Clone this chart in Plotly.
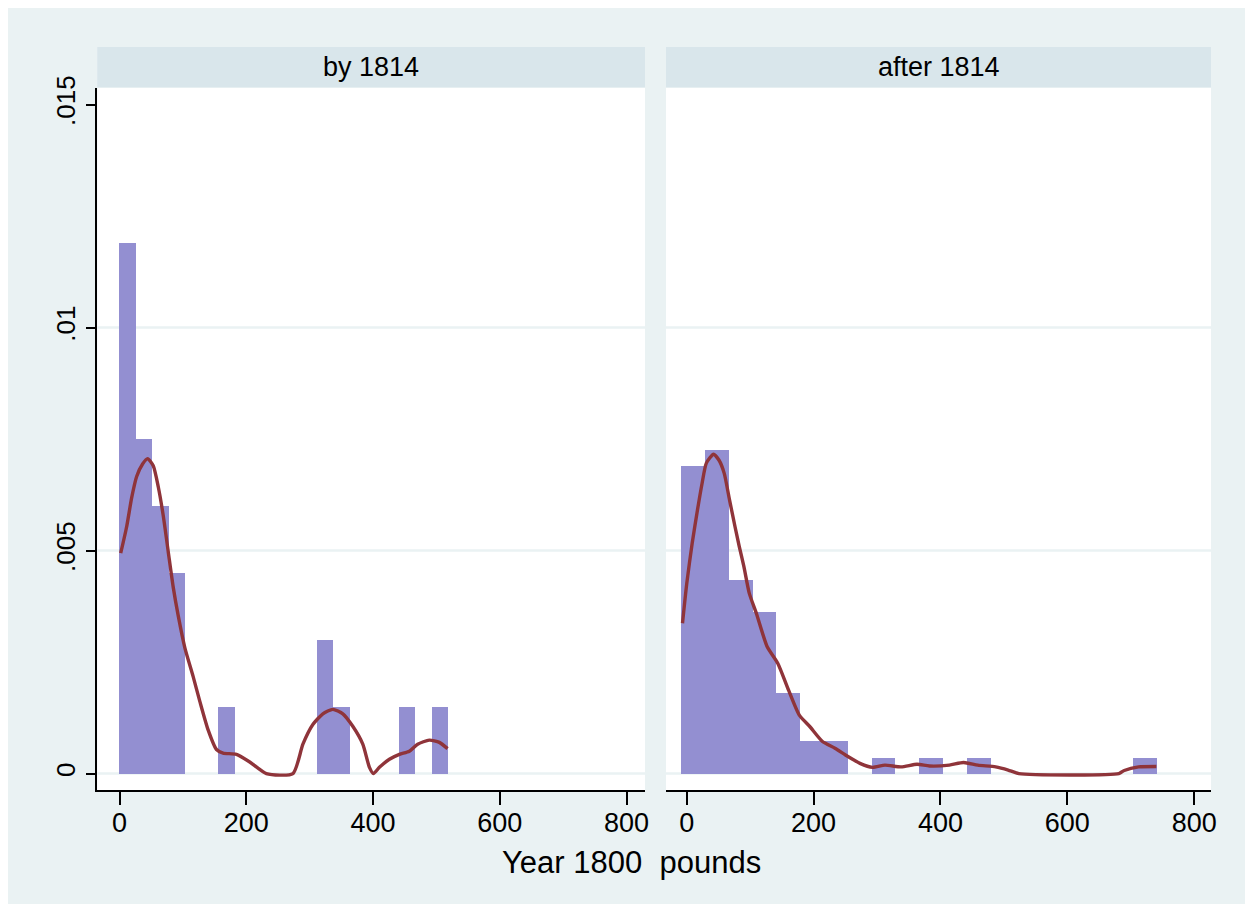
import plotly.graph_objects as go

# ---------------- data ----------------
panels = ["by 1814", "after 1814"]

# histogram bins: start and width (Year 1800 pounds), densities per bin
left_bin_start = 0.2
left_bin_width = 25.95
left_density = [0.0119, 0.0075, 0.0060, 0.0045, 0, 0, 0.0015, 0, 0, 0,
                0, 0, 0.0030, 0.0015, 0, 0, 0, 0.0015, 0, 0.0015]

right_bin_start = -8.5
right_bin_width = 37.5
right_density = [0.00689, 0.00725, 0.00435, 0.00362, 0.00181, 0.00073, 0.00073, 0,
                 0.00036, 0, 0.00036, 0, 0.00036, 0, 0, 0, 0, 0, 0, 0.00036]

# kernel density curves
left_kx = [1.7, 11.2, 19, 26.9, 36.3, 44.2, 53.1, 61, 68.9, 76.7, 84.6, 92.5, 103,
           116, 126.6, 139.7, 152.9, 163.3, 184.4, 205.4, 231.6, 273.5, 289.3, 305,
           320.8, 336.5, 352.3, 368, 383.8, 394.3, 400.6, 410, 425.8, 441.6, 457.3,
           470.4, 488.8, 504.6, 517.6]
left_ky = [0.00494, 0.00554, 0.00618, 0.00666, 0.00694, 0.00706, 0.0069, 0.00643,
           0.00578, 0.00498, 0.00418, 0.00354, 0.00282, 0.00218, 0.00162, 0.00098,
           0.00054, 0.00046, 0.00043, 0.00026, 0.0, 0.0, 0.00066, 0.0011, 0.00134,
           0.00144, 0.00134, 0.00106, 0.00066, 0.00014, 0.0, 0.00014, 0.00032,
           0.00043, 0.0005, 0.00066, 0.00075, 0.0007, 0.00056]

right_kx = [-6.6, 0.2, 8.6, 17, 24.3, 31, 42.4, 50.8, 59.2, 67.6, 76.1, 82.9, 90.2,
            98.7, 109.9, 126.7, 143.7, 160.6, 177.5, 194.3, 214, 233.7, 253.4, 273.1,
            292.8, 312.5, 337.9, 363.1, 382.8, 413.9, 436.4, 458.9, 487, 506.7, 523.6,
            681.2, 689.7, 712.2, 740.3]
right_ky = [0.00337, 0.00427, 0.00516, 0.00591, 0.00651, 0.00696, 0.00716, 0.00703,
            0.00673, 0.00613, 0.00554, 0.00509, 0.00464, 0.00404, 0.00359, 0.00285,
            0.00247, 0.00187, 0.00131, 0.00105, 0.00072, 0.00057, 0.00039, 0.00023,
            0.00014, 0.00019, 0.00015, 0.00021, 0.00017, 0.00019, 0.00025, 0.00019,
            0.00015, 0.00008, 0.0, 0.0, 0.00007, 0.00015, 0.00016]

x_ticks = [0, 200, 400, 600, 800]
y_ticks = [0, 0.005, 0.01, 0.015]
y_tick_labels = ["0", ".005", ".01", ".015"]
grid_vals = [0, 0.005, 0.01]
x_title = "Year 1800\u00a0 pounds"

# ---------------- styling ----------------
BAR = "#938FD1"
LINE = "#8F343A"
OUTER = "#EAF2F3"
STRIP = "#D9E6EB"
GRID = "#EAF2F3"
FONT = "Liberation Sans, Arial, sans-serif"

OFF = 8  # page body margin; figure starts at (8, 8) in the page
W, H = 1245 - OFF, 904 - OFF
PLOT_L, PLOT_R, PLOT_T, PLOT_B = 97, 1211, 47, 790  # page pixel coords
ML, MT = PLOT_L - OFF, PLOT_T - OFF
MR, MB = W - (PLOT_R - OFF), H - (PLOT_B - OFF)
PW = W - ML - MR
PH = H - MT - MB


def px_x(p):
    return (p - PLOT_L) / PW


def px_y(p):
    return (PLOT_B - p) / PH


fig = go.Figure()

hist = [(left_bin_start, left_bin_width, left_density, "x", "y"),
        (right_bin_start, right_bin_width, right_density, "x2", "y2")]
for start, width, dens, xa, ya in hist:
    centers = [start + width * (i + 0.5) for i in range(len(dens))]
    fig.add_trace(go.Bar(x=centers, y=dens, width=width, xaxis=xa, yaxis=ya,
                         marker=dict(color=BAR, line=dict(width=0)),
                         showlegend=False, hoverinfo="skip"))

for kx, ky, xa, ya in [(left_kx, left_ky, "x", "y"), (right_kx, right_ky, "x2", "y2")]:
    fig.add_trace(go.Scatter(x=kx, y=ky, mode="lines", xaxis=xa, yaxis=ya,
                             line=dict(color=LINE, width=3.4, shape="spline", smoothing=0.6),
                             showlegend=False, hoverinfo="skip"))

ydom = [0, px_y(88)]
axis_common = dict(showgrid=False, zeroline=False, showline=True, linecolor="#000000",
                   linewidth=1.5, ticks="outside", tickcolor="#000000", tickwidth=1.5,
                   ticklen=13, tickvals=x_ticks, ticklabelstandoff=-5,
                   tickfont=dict(family=FONT, size=27, color="#000000"))
fig.update_layout(
    width=W, height=H,
    margin=dict(l=ML, r=MR, t=MT, b=MB),
    paper_bgcolor=OUTER, plot_bgcolor="#FFFFFF",
    bargap=0, barmode="overlay",
    xaxis=dict(domain=[px_x(97.3), px_x(645)], range=[-35.2, 829.2], **axis_common),
    xaxis2=dict(domain=[px_x(666), 1], range=[-32.6, 826.4], **axis_common),
    yaxis=dict(domain=ydom, range=[-0.000368, 0.01537], showgrid=False, zeroline=False,
               showline=True, linecolor="#000000", linewidth=1.5, ticks="outside",
               tickcolor="#000000", tickwidth=1.5, ticklen=10,
               tickvals=y_ticks, ticktext=y_tick_labels, tickangle=-90,
               tickfont=dict(family=FONT, size=26, color="#000000")),
    yaxis2=dict(domain=ydom, range=[-0.000368, 0.01537], anchor="x2", showgrid=False,
                zeroline=False, showline=False, showticklabels=False, ticks=""),
)

shapes = []
for xr, yr in [("x domain", "y"), ("x2 domain", "y2")]:
    for g in grid_vals:
        shapes.append(dict(type="line", xref=xr, yref=yr, x0=0, x1=1, y0=g, y1=g,
                           line=dict(color=GRID, width=2.5), layer="below"))
annotations = []
for name, xr in zip(panels, ["x domain", "x2 domain"]):
    shapes.append(dict(type="rect", xref=xr, yref="paper", x0=0, x1=1,
                       y0=px_y(87.3), y1=px_y(47), fillcolor=STRIP,
                       line=dict(width=0), layer="above"))
    annotations.append(dict(text=name, xref=xr, yref="paper", x=0.5,
                            y=(px_y(87.3) + px_y(47)) / 2, showarrow=False,
                            xanchor="center", yanchor="middle",
                            font=dict(family=FONT, size=27, color="#000000")))

annotations.append(dict(text=x_title, xref="paper", yref="paper", x=px_x(631),
                        y=px_y(862), showarrow=False, xanchor="center", yanchor="middle",
                        font=dict(family=FONT, size=31, color="#000000")))

fig.update_layout(shapes=shapes, annotations=annotations)
fig.write_html("out.html")
